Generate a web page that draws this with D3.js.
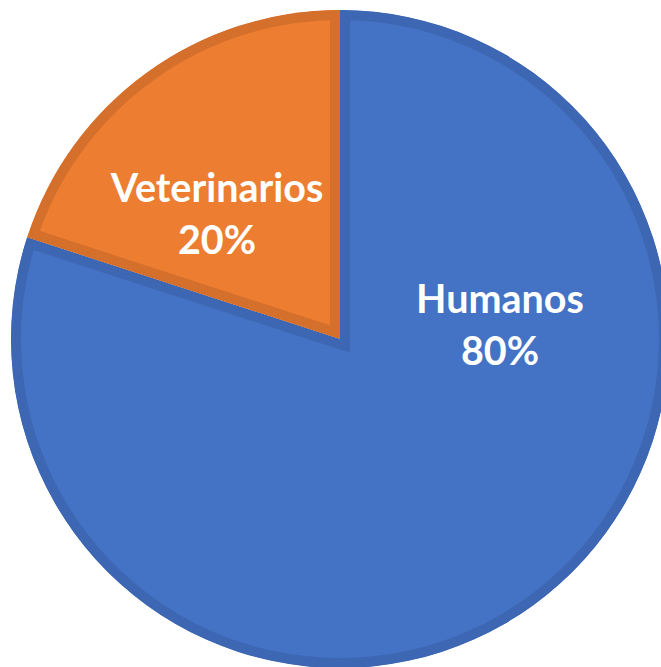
<!DOCTYPE html>
<html>
<head>
<meta charset="utf-8">
<script src="https://cdn.jsdelivr.net/npm/d3@7"></script>
<style>
  html, body { margin: 0; padding: 0; background: #ffffff; }
  svg { display: block; }
</style>
</head>
<body>
<svg id="chart" width="661" height="667"></svg>
<script>
// Share of cases by group
const categories = ["Humanos", "Veterinarios"];
const values = [80, 20];
const percentLabels = ["80%", "20%"];

const fills = ["#4472C4", "#ED7D31"];
const borders = ["#3D67B2", "#D5702C"];

const width = 661, height = 667;
const cx = 340, cy = 339, radius = 329;
const borderWidth = 10;

// label anchors, relative to the pie centre (first-line baseline)
const labelAnchors = [
  { dx: 160, dy: -26 },
  { dx: -123, dy: -137 }
];
const lineGap = 52;

const svg = d3.select("#chart");
const g = svg.append("g").attr("transform", `translate(${cx},${cy})`);

const pie = d3.pie().sort(null).value(d => d.value);
const arcs = pie(categories.map((c, i) => ({ name: c, value: values[i], pct: percentLabels[i], i })));
const arc = d3.arc().innerRadius(0).outerRadius(radius);

const defs = svg.append("defs");
arcs.forEach((a, i) => {
  defs.append("clipPath").attr("id", "slice-clip-" + i)
    .append("path").attr("d", arc(a));
});

// slices with a border that sits inside each slice
g.selectAll("path.slice")
  .data(arcs)
  .join("path")
  .attr("class", "slice")
  .attr("d", arc)
  .attr("fill", d => fills[d.data.i])
  .attr("stroke", d => borders[d.data.i])
  .attr("stroke-width", borderWidth * 2)
  .attr("stroke-linejoin", "miter")
  .attr("clip-path", d => `url(#slice-clip-${d.data.i})`);

// data labels
const labels = g.selectAll("text.label")
  .data(arcs)
  .join("text")
  .attr("class", "label")
  .attr("text-anchor", "middle")
  .attr("fill", "#ffffff")
  .attr("font-family", "Lato, 'Open Sans', sans-serif")
  .attr("font-weight", "bold")
  .attr("font-size", 39.5);

labels.append("tspan")
  .attr("x", d => labelAnchors[d.data.i].dx)
  .attr("y", d => labelAnchors[d.data.i].dy)
  .text(d => d.data.name);
labels.append("tspan")
  .attr("x", d => labelAnchors[d.data.i].dx)
  .attr("y", d => labelAnchors[d.data.i].dy + lineGap)
  .text(d => d.data.pct);
</script>
</body>
</html>
